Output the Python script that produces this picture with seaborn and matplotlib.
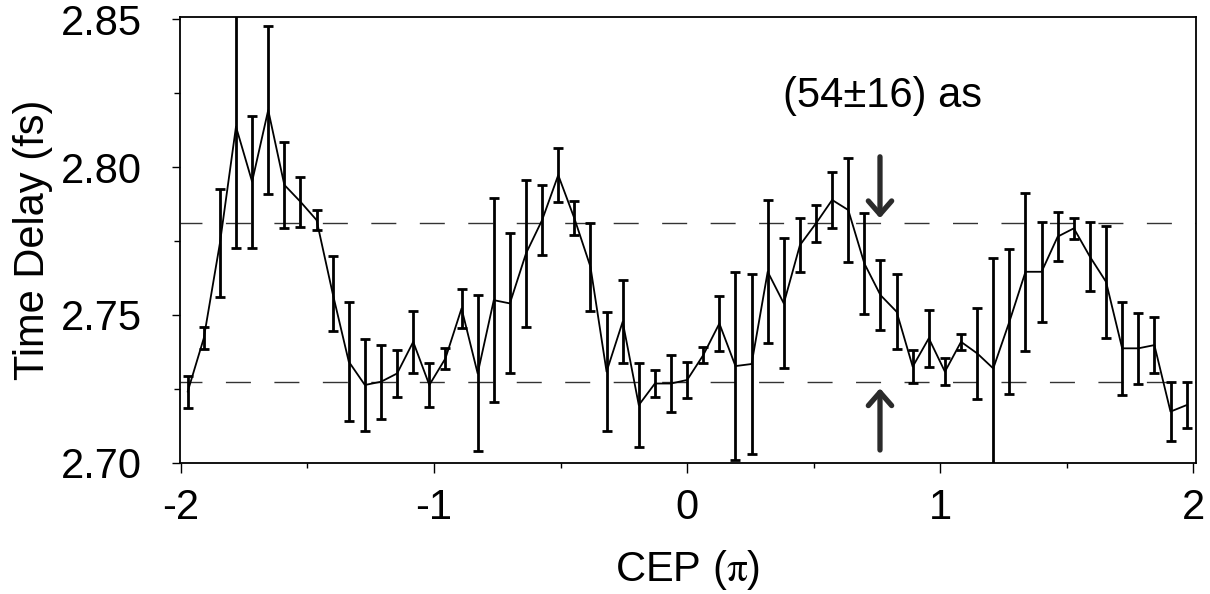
import matplotlib

matplotlib.use("Agg")

import matplotlib.pyplot as plt
import numpy as np
import pandas as pd
import seaborn as sns
from matplotlib.ticker import MultipleLocator

# CEP steps in radians (0.2 rad apart), shown on the axis in units of pi
cep_rad = [
    -6.2, -6.0, -5.8, -5.6, -5.4, -5.2, -5.0, -4.8, -4.6, -4.4, -4.2,
    -4.0, -3.8, -3.6, -3.4, -3.2, -3.0, -2.8, -2.6, -2.4, -2.2, -2.0,
    -1.8, -1.6, -1.4, -1.2, -1.0, -0.8, -0.6, -0.4, -0.2, 0.0, 0.2,
    0.4, 0.6, 0.8, 1.0, 1.2, 1.4, 1.6, 1.8, 2.0, 2.2, 2.4, 2.6, 2.8,
    3.0, 3.2, 3.4, 3.6, 3.8, 4.0, 4.2, 4.4, 4.6, 4.8, 5.0, 5.2, 5.4,
    5.6, 5.8, 6.0, 6.2,
]

time_delay = [
    2.7240, 2.7421, 2.7742, 2.8137, 2.7951, 2.8193, 2.7940, 2.7883, 2.7821,
    2.7573, 2.7342, 2.7263, 2.7274, 2.7302, 2.7409, 2.7263, 2.7353, 2.7522,
    2.7302, 2.7550, 2.7539, 2.7708, 2.7821, 2.7973, 2.7827, 2.7663, 2.7308,
    2.7477, 2.7195, 2.7268, 2.7268, 2.7280, 2.7364, 2.7471, 2.7327, 2.7334,
    2.7646, 2.7539, 2.7736, 2.7810, 2.7889, 2.7855, 2.7674, 2.7567, 2.7511,
    2.7325, 2.7421, 2.7308, 2.7409, 2.7370, 2.7319, 2.7477, 2.7646, 2.7646,
    2.7765, 2.7793, 2.7697, 2.7612, 2.7387, 2.7387, 2.7398, 2.7173, 2.7195,
]

delay_err = [
    0.0054, 0.0037, 0.0183, 0.0412, 0.0223, 0.0284, 0.0145, 0.0085, 0.0034,
    0.0127, 0.0201, 0.0154, 0.0125, 0.0080, 0.0106, 0.0074, 0.0036, 0.0067,
    0.0264, 0.0346, 0.0237, 0.0249, 0.0118, 0.0092, 0.0057, 0.0148, 0.0202,
    0.0141, 0.0143, 0.0047, 0.0096, 0.0060, 0.0027, 0.0094, 0.0319, 0.0306,
    0.0242, 0.0220, 0.0092, 0.0062, 0.0094, 0.0175, 0.0171, 0.0118, 0.0126,
    0.0055, 0.0096, 0.0045, 0.0027, 0.0154, 0.0372, 0.0246, 0.0267, 0.0169,
    0.0082, 0.0036, 0.0117, 0.0190, 0.0158, 0.0121, 0.0096, 0.0099, 0.0077,
]

# oscillation bounds (max / min level) and annotation
levels = [2.7812, 2.7272]
label_text = "(54±16) as"
arrow_cep = 0.762


def main() -> None:
    sns.set_style("ticks")
    plt.rcParams["font.family"] = ["Liberation Sans", "DejaVu Sans"]
    plt.rcParams["mathtext.fontset"] = "stix"
    plt.rcParams["text.color"] = "black"
    plt.rcParams["axes.labelcolor"] = "black"

    df = pd.DataFrame({
        "cep": np.array(cep_rad) / np.pi,
        "delay": time_delay,
        "err": delay_err,
    })

    fig = plt.figure(figsize=(12.1, 5.94), dpi=100)
    ax = fig.add_axes([0.1485, 0.22, 0.8397, 0.7519])

    for lvl in levels:
        ax.axhline(lvl, color="#333333", lw=1.0, ls=(2.2, (18, 16.9)), zorder=1)

    ax.errorbar(
        df["cep"], df["delay"], yerr=df["err"], fmt="none",
        ecolor="black", elinewidth=2.0, capsize=3.9, capthick=2.0, zorder=2,
    )
    sns.lineplot(data=df, x="cep", y="delay", color="black", lw=1.3,
                 ax=ax, zorder=3)

    # arrows marking the oscillation amplitude
    arrow_kw = dict(arrowstyle="->, head_length=0.48, head_width=0.42",
                    color="#2b2b2b", lw=3.8, mutation_scale=20,
                    shrinkA=0, shrinkB=0)
    ax.annotate("", xy=(arrow_cep, 2.7827), xytext=(arrow_cep, 2.8035),
                arrowprops=arrow_kw)
    ax.annotate("", xy=(arrow_cep, 2.7252), xytext=(arrow_cep, 2.7043),
                arrowprops=arrow_kw)
    ax.text(0.772, 2.8204, label_text, fontsize=30, ha="center",
            va="baseline", color="black")

    ax.set_xlim(-2.005, 2.0095)
    ax.set_ylim(2.6998, 2.8509)
    ax.xaxis.set_major_locator(MultipleLocator(1))
    ax.xaxis.set_minor_locator(MultipleLocator(0.5))
    ax.yaxis.set_major_locator(MultipleLocator(0.05))
    ax.yaxis.set_minor_locator(MultipleLocator(0.025))
    ax.xaxis.set_major_formatter(plt.FuncFormatter(lambda v, p: f"{v:.0f}"))
    ax.yaxis.set_major_formatter(plt.FuncFormatter(lambda v, p: f"{v:.2f}"))

    ax.tick_params(axis="both", which="both", direction="out", width=1.0,
                   colors="black", labelsize=30)
    ax.tick_params(axis="x", which="major", length=7, pad=11)
    ax.tick_params(axis="x", which="minor", length=3.5)
    ax.tick_params(axis="y", which="major", length=6, pad=21)
    ax.tick_params(axis="y", which="minor", length=4)

    for spine in ax.spines.values():
        spine.set_visible(True)
        spine.set_color("black")
        spine.set_linewidth(1.3)

    ax.set_xlabel(r"CEP ($\mathrm{\pi}$)", fontsize=30, labelpad=14)
    ax.set_ylabel("Time Delay (fs)", fontsize=30, labelpad=6)

    fig.savefig("out.png", dpi=100)
    plt.close(fig)


if __name__ == "__main__":
    main()
